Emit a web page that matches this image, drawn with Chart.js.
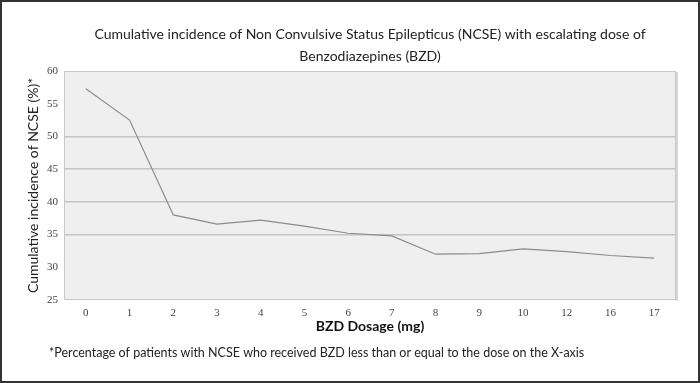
<!DOCTYPE html>
<html lang="en">
<head>
    <meta charset="UTF-8">
    <title>Cumulative incidence of NCSE</title>
    <script src="https://cdn.jsdelivr.net/npm/chart.js"></script>
    <style>
        html, body { margin: 0; padding: 0; background: #fff; }
        .chart-container { position: relative; width: 700px; height: 383px; }
    </style>
</head>
<body>
    <div class="chart-container">
        <canvas id="ncseChart"></canvas>
    </div>

    <script>
        const doses = ['0', '1', '2', '3', '4', '5', '6', '7', '8', '9', '10', '12', '16', '17'];
        const incidence = [57.3, 52.5, 38.0, 36.6, 37.2, 36.3, 35.2, 34.8, 32.0, 32.1, 32.8, 32.4, 31.8, 31.4];
        const gridValues = [35, 40, 45, 50];

        const titleLines = ['Cumulative incidence of Non Convulsive Status Epilepticus (NCSE) with escalating dose of', 'Benzodiazepines (BZD)'];
        const footnote = '*Percentage of patients with NCSE who received BZD less than or equal to the dose on the X-axis';

        const sansFont = 'Lato, "Open Sans", sans-serif';
        const serifFont = '"Liberation Serif", "DejaVu Serif", serif';

        // plot area fill, frame, title (centred over the plot), footnote and outer border
        const framePlugin = {
            id: 'frame',
            beforeDraw(chart) {
                const { ctx, chartArea: a } = chart;
                ctx.save();
                ctx.fillStyle = '#efefef';
                ctx.fillRect(a.left, a.top, a.right - a.left, a.bottom - a.top);
                ctx.restore();
            },
            afterDatasetsDraw(chart) {
                const { ctx, chartArea: a, width, height } = chart;
                ctx.save();
                ctx.strokeStyle = '#c8c8c8';
                ctx.lineWidth = 1;
                ctx.strokeRect(a.left + 0.5, a.top + 0.5, a.right - a.left - 1, a.bottom - a.top - 1);
                ctx.strokeStyle = '#d6d6d6';
                ctx.lineWidth = 2;
                ctx.beginPath();
                ctx.moveTo(a.right + 1, a.top + 1);
                ctx.lineTo(a.right + 1, a.bottom + 1);
                ctx.stroke();

                ctx.fillStyle = '#222';
                ctx.textBaseline = 'middle';
                ctx.font = '14px ' + sansFont;
                ctx.textAlign = 'center';
                const cx = (a.left + a.right) / 2;
                titleLines.forEach((line, i) => ctx.fillText(line, cx, 34 + i * 22));

                ctx.font = '12.5px ' + sansFont;
                ctx.textAlign = 'left';
                ctx.fillText(footnote, 49, 353);

                ctx.strokeStyle = '#333';
                ctx.lineWidth = 2;
                ctx.strokeRect(1, 1, width - 2, height - 2);
                ctx.restore();
            }
        };

        const ctx = document.getElementById('ncseChart').getContext('2d');
        new Chart(ctx, {
            type: 'line',
            data: {
                labels: doses,
                datasets: [{
                    data: incidence,
                    borderColor: '#8c8c8c',
                    borderWidth: 1.2,
                    pointRadius: 0,
                    tension: 0,
                    fill: false
                }]
            },
            plugins: [framePlugin],
            options: {
                responsive: true,
                maintainAspectRatio: false,
                animation: false,
                layout: { padding: { top: 71, left: 16, right: 24, bottom: 48 } },
                plugins: {
                    legend: { display: false },
                    tooltip: { enabled: false },
                    title: { display: false }
                },
                scales: {
                    x: {
                        offset: true,
                        afterFit: (s) => { s.height = 35; },
                        grid: { display: false, drawTicks: false },
                        border: { display: false },
                        ticks: {
                            color: '#444',
                            font: { family: serifFont, size: 11 },
                            padding: 7,
                            maxRotation: 0
                        },
                        title: {
                            display: true,
                            text: 'BZD Dosage (mg)',
                            color: '#111',
                            font: { family: sansFont, size: 14, weight: 'bold', lineHeight: 1.2 },
                            padding: { top: 0, bottom: 0 }
                        }
                    },
                    y: {
                        min: 25,
                        max: 60,
                        afterFit: (s) => { s.width = 48; },
                        grid: {
                            drawTicks: false,
                            lineWidth: 1.5,
                            color: (c) => gridValues.includes(c.tick && c.tick.value) ? '#c4c4c4' : 'rgba(0,0,0,0)'
                        },
                        border: { display: false },
                        ticks: {
                            stepSize: 5,
                            color: '#444',
                            font: { family: serifFont, size: 11 },
                            padding: 6
                        },
                        title: {
                            display: true,
                            text: 'Cumulative incidence of NCSE (%)*',
                            color: '#222',
                            font: { family: sansFont, size: 14, lineHeight: 1.2 },
                            padding: { top: 9, bottom: 0 }
                        }
                    }
                }
            }
        });
    </script>
</body>
</html>
